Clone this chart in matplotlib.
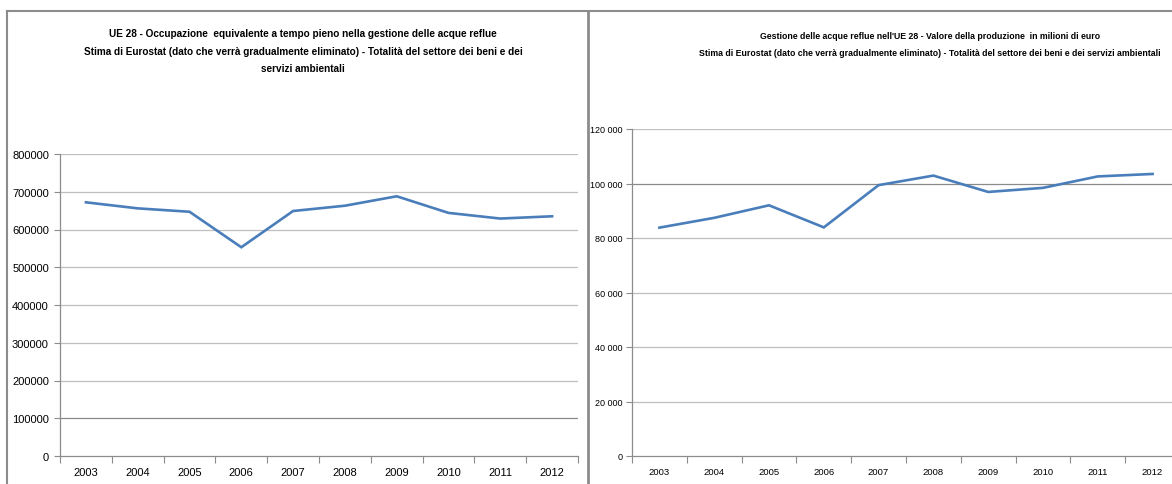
#! /usr/bin/env python3

"""
Two Excel-style line charts: waste water management in the EU 28.
"""

import matplotlib.pyplot as plt
from matplotlib.lines import Line2D
from matplotlib.ticker import FuncFormatter

YEARS = ['2003', '2004', '2005', '2006', '2007', '2008', '2009', '2010', '2011', '2012']

EMPLOYMENT = [672000, 656000, 647000, 553000, 649000, 663000, 688000, 644000, 629000, 635000]
PRODUCTION = [83800, 87400, 92000, 83900, 99400, 102900, 96900, 98400, 102600, 103500]

TITLE_LEFT = ("UE 28 - Occupazione  equivalente a tempo pieno nella gestione delle acque reflue\n"
              "Stima di Eurostat (dato che verrà gradualmente eliminato) - Totalità del settore dei beni e dei\n"
              "servizi ambientali")
TITLE_RIGHT = ("Gestione delle acque reflue nell'UE 28 - Valore della produzione  in milioni di euro\n"
               "Stima di Eurostat (dato che verrà gradualmente eliminato) - Totalità del settore dei beni e dei servizi ambientali")

W, H = 1172, 485
FONT = ['Liberation Sans', 'DejaVu Sans']
LINE_COLOR = '#4a7ebb'
GRID_COLOR = '#bfbfbf'
AXIS_COLOR = '#8c8c8c'


def px_axes(fig, x0, y_top, x1, y_bottom):
    """Create axes from pixel coordinates (top-left origin)"""
    return fig.add_axes([x0 / W, 1 - y_bottom / H, (x1 - x0) / W, (y_bottom - y_top) / H])


def style_axes(ax, values, ymax, step, fmt, xsize, ysize, ypad, dark_value):
    ax.plot(range(len(YEARS)), values, color=LINE_COLOR, lw=1.9, solid_joinstyle='miter')
    ax.set_xlim(-0.5, len(YEARS) - 0.5)
    ax.set_ylim(0, ymax)
    ax.set_xticks(range(len(YEARS)))
    ax.set_xticklabels(YEARS)
    ax.set_xticks([i - 0.5 for i in range(len(YEARS) + 1)], minor=True)
    ax.tick_params(axis='x', which='major', length=0, pad=8, labelsize=xsize)
    ax.tick_params(axis='x', which='minor', length=5, color=AXIS_COLOR, width=0.8)
    ax.set_yticks(range(0, ymax + 1, step))
    ax.yaxis.set_major_formatter(FuncFormatter(fmt))
    ax.tick_params(axis='y', length=4, color=AXIS_COLOR, width=0.8, pad=ypad, labelsize=ysize)
    for label in ax.get_xticklabels() + ax.get_yticklabels():
        label.set_family(FONT)
        label.set_color('#000000')

    for y in range(step, ymax + 1, step):
        color = '#8a8a8a' if y == dark_value else GRID_COLOR
        ax.axhline(y, color=color, lw=0.9, zorder=0)

    for side in ('top', 'right'):
        ax.spines[side].set_visible(False)
    for side in ('left', 'bottom'):
        ax.spines[side].set_color(AXIS_COLOR)
        ax.spines[side].set_linewidth(0.9)
    ax.set_facecolor('none')


def main() -> None:
    """Main entry-point for script"""
    fig = plt.figure(figsize=(W / 100, H / 100), dpi=100)

    # panel borders
    border = dict(color='#8c8c8c', lw=1.5, transform=fig.transFigure)
    fig.add_artist(Line2D([7 / W, 1], [1 - 11.5 / H] * 2, **border))
    fig.add_artist(Line2D([7 / W] * 2, [0, 1 - 11.5 / H], **border))
    fig.add_artist(Line2D([588.5 / W] * 2, [0, 1 - 11.5 / H], color='#8c8c8c', lw=2.0,
                          transform=fig.transFigure))

    ax1 = px_axes(fig, 60, 155, 578, 457)
    style_axes(ax1, EMPLOYMENT, 800000, 100000, lambda v, _: f'{int(v)}', 8, 8, 4, 100000)

    ax2 = px_axes(fig, 632, 130, 1180, 457)
    style_axes(ax2, PRODUCTION, 120000, 20000,
               lambda v, _: f'{int(v):,}'.replace(',', ' '), 6.8, 6.5, 3, 100000)

    fig.text(303 / W, 1 - 29 / H, TITLE_LEFT, ha='center', va='top', family=FONT,
             fontsize=7.2, fontweight='bold', linespacing=1.95)
    fig.text(930 / W, 1 - 32 / H, TITLE_RIGHT, ha='center', va='top', family=FONT,
             fontsize=6.3, fontweight='bold', linespacing=2.2)

    fig.savefig('out.png', dpi=100)


if __name__ == '__main__':
    main()
